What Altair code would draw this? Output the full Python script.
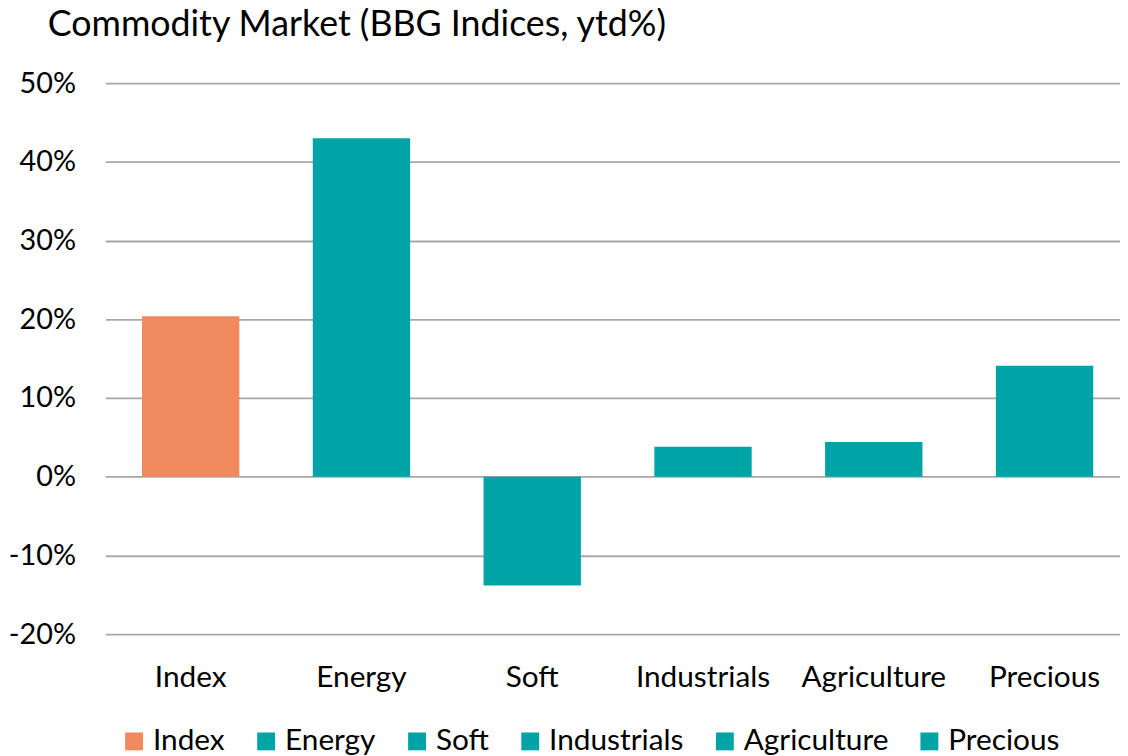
import altair as alt
import pandas as pd

categories = ["Index", "Energy", "Soft", "Industrials", "Agriculture", "Precious"]
values = [0.204, 0.430, -0.138, 0.038, 0.044, 0.141]
colors = ["#F0895E", "#00A3A6", "#00A3A6", "#00A3A6", "#00A3A6", "#00A3A6"]
y_ticks = [-0.2, -0.1, 0.0, 0.1, 0.2, 0.3, 0.4, 0.5]

df = pd.DataFrame({"cat": categories, "val": values})
FONT = "Lato"

chart = alt.Chart(df).mark_bar().encode(
    x=alt.X("cat:N", sort=categories, title=None,
            scale=alt.Scale(range=[0, 1032], paddingInner=0.43, paddingOuter=0.215),
            axis=alt.Axis(labelAngle=0, labelFontSize=30, labelFont=FONT, labelColor="#000000",
                          labelPadding=29, domain=False, ticks=False, grid=False)),
    y=alt.Y("val:Q", title=None,
            scale=alt.Scale(domain=[-0.2, 0.5], nice=False, zero=False),
            axis=alt.Axis(values=y_ticks, labelExpr="replace(format(datum.value, '.0%'), '\u2212', '-')",
                          labelFontSize=29, labelFont=FONT,
                          labelColor="#000000", labelPadding=30, domain=False, ticks=False,
                          grid=True, gridColor="#A8A8A8", gridWidth=1.8)),
    color=alt.Color("cat:N", sort=categories,
                    scale=alt.Scale(domain=categories, range=colors),
                    legend=alt.Legend(title=None, orient="none", legendX=14, legendY=648,
                                      direction="horizontal", columns=6, symbolType="square",
                                      symbolSize=324, symbolStrokeWidth=0, labelFontSize=30,
                                      labelFont=FONT, labelColor="#000000", labelOffset=4,
                                      columnPadding=26)),
).properties(
    width=1022, height=555,
    autosize=alt.AutoSizeParams(type="none"),
    padding={"left": 98, "top": 73, "right": 0, "bottom": 120},
    title=alt.TitleParams("Commodity Market (BBG Indices, ytd%)", anchor="start", frame="group",
                          dx=-58, fontSize=36, font=FONT, fontWeight="normal", color="#000000",
                          offset=25),
).configure_view(stroke=None)

chart.save("out.html", embed_options={"renderer": "svg", "actions": False})
